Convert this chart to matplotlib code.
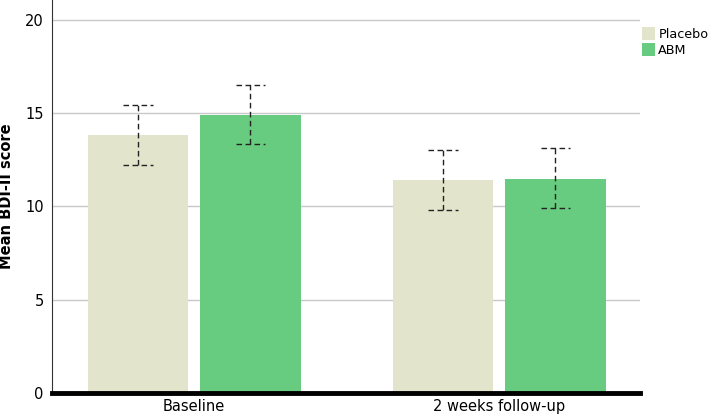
import numpy as np
import matplotlib
matplotlib.use("Agg")
import matplotlib.pyplot as plt
from matplotlib.patches import Patch

# data
timepoints = ["Baseline", "2 weeks follow-up"]
groups = ["Placebo", "ABM"]
placebo_mean = [13.83, 11.42]
placebo_lo = [12.23, 9.81]
placebo_hi = [15.46, 13.03]
abm_mean = [14.90, 11.49]
abm_lo = [13.33, 9.90]
abm_hi = [16.53, 13.12]
yticks = [0, 5, 10, 15, 20]

colors = {"Placebo": "#e3e4cc", "ABM": "#67cb80"}

fig = plt.figure(figsize=(7.09, 4.19), dpi=100)
ax = fig.add_axes([0.0733, 0.062, 0.8294, 0.938])

x = np.arange(len(timepoints))
w = 0.331
off = 0.184
cap = 0.048

series = [
    ("Placebo", placebo_mean, placebo_lo, placebo_hi, -off),
    ("ABM", abm_mean, abm_lo, abm_hi, off),
]

for name, mean, lo, hi, dx in series:
    xs = x + dx
    ax.bar(xs, mean, width=w, color=colors[name], zorder=2)
    # dashed error bars, drawn as in SPSS
    ax.vlines(xs, lo, hi, colors="#222222", linestyles=(0, (4, 2.5)), linewidth=1, zorder=3)
    ax.hlines(lo, xs - cap, xs + cap, colors="#222222", linestyles=(0, (4, 2.5)), linewidth=1, zorder=3)
    ax.hlines(hi, xs - cap, xs + cap, colors="#222222", linestyles=(0, (4, 2.5)), linewidth=1, zorder=3)

ax.set_xlim(-0.466, 1.462)
ax.set_ylim(0, 21.07)
ax.set_xticks(x)
ax.set_xticklabels(timepoints, fontsize=10.5)
ax.set_yticks(yticks)
ax.set_yticklabels([str(t) for t in yticks], fontsize=10.5)
ax.tick_params(length=0)
ax.tick_params(axis="y", pad=6)
ax.tick_params(axis="x", pad=4)
ax.set_ylabel("Mean BDI-II score", fontsize=10.5, fontweight="bold", labelpad=8)

#grid / spines
ax.yaxis.grid(True, color="#c8c8c8", linewidth=1)
ax.set_axisbelow(True)
for s in ["top", "right"]:
    ax.spines[s].set_visible(False)
ax.spines["left"].set_color("#333333")
ax.spines["left"].set_linewidth(0.8)
ax.spines["bottom"].set_color("black")
ax.spines["bottom"].set_linewidth(3.5)
ax.spines["bottom"].set_zorder(4)

handles = [Patch(facecolor=colors[g], edgecolor="none") for g in groups]
fig.legend(handles, groups, loc="upper left", bbox_to_anchor=(0.906, 0.935),
           frameon=False, fontsize=9.2, handlelength=1.0, handleheight=1.2,
           handletextpad=0.25, labelspacing=0.15, borderaxespad=0, borderpad=0)

fig.savefig("out.png", dpi=100)
